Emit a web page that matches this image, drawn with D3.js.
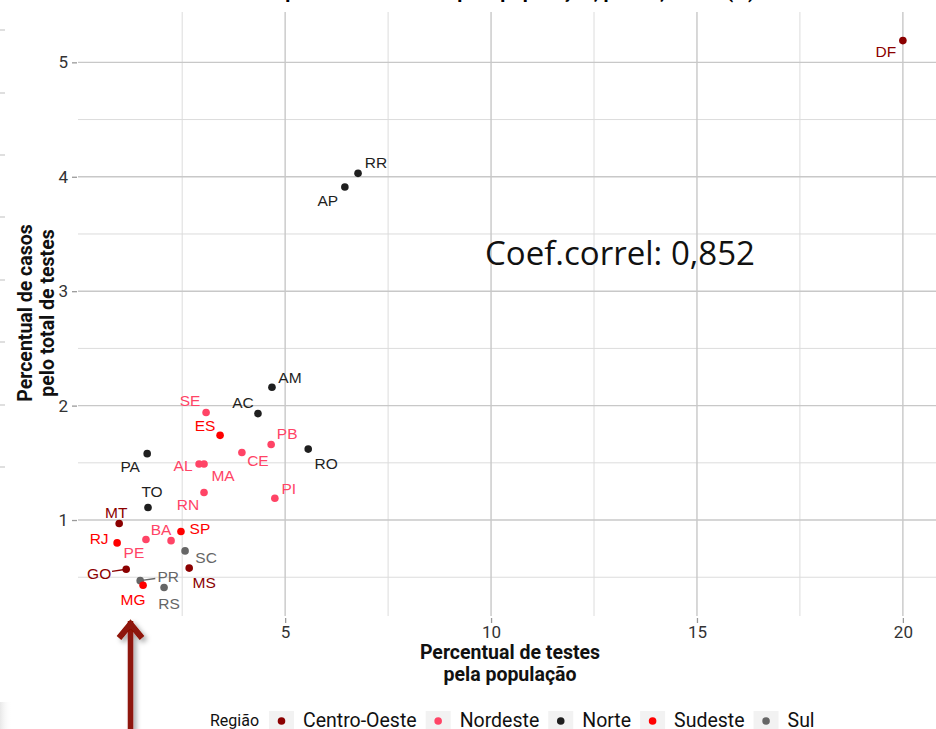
<!DOCTYPE html>
<html>
<head>
<meta charset="utf-8">
<script src="https://cdn.jsdelivr.net/npm/d3@7"></script>
<style>
  body { margin: 0; background: #fff; overflow: hidden; }
  svg { display: block; }
</style>
</head>
<body>
<div id="chart"></div>
<script>
// dados: % de testes pela populacao (x) e % de casos pelo total de testes (y)
var ufs = ["DF", "RR", "AP", "AM", "AC", "SE", "ES", "PB", "CE", "RO", "PA", "AL", "MA", "PI",
           "RN", "TO", "MT", "SP", "BA", "PE", "RJ", "SC", "GO", "MS", "PR", "MG", "RS"];
var regiaoUf = ["Centro-Oeste", "Norte", "Norte", "Norte", "Norte", "Nordeste", "Sudeste", "Nordeste",
                "Nordeste", "Norte", "Norte", "Nordeste", "Nordeste", "Nordeste", "Nordeste", "Norte",
                "Centro-Oeste", "Sudeste", "Nordeste", "Nordeste", "Sudeste", "Sul", "Centro-Oeste",
                "Centro-Oeste", "Sul", "Sudeste", "Sul"];
var testesPop = [20.0, 6.77, 6.45, 4.68, 4.34, 3.08, 3.42, 4.66, 3.95, 5.56, 1.65, 2.91, 3.03, 4.75,
                 3.03, 1.67, 0.97, 2.47, 2.23, 1.62, 0.92, 2.57, 1.14, 2.67, 1.48, 1.55, 2.06];
var casosTestes = [5.19, 4.03, 3.91, 2.16, 1.93, 1.94, 1.74, 1.66, 1.59, 1.62, 1.58, 1.49, 1.49, 1.19,
                   1.24, 1.11, 0.97, 0.90, 0.82, 0.83, 0.80, 0.73, 0.57, 0.58, 0.47, 0.43, 0.41];
var regioes = ["Centro-Oeste", "Nordeste", "Norte", "Sudeste", "Sul"];
var coresRegiao = ["#8b0000", "#ff4466", "#1f1f1f", "#ff0000", "#666666"];
var xTicks = [5, 10, 15, 20];
var yTicks = [1, 2, 3, 4, 5];
var coefCorrel = "0,852";

// deslocamento dos rotulos (tipo ggrepel), em pixels
var labelOffset = {
  DF: [-17, 11], RR: [18, -11], AP: [-17, 13], AM: [18, -10], AC: [-15, -11], SE: [-16, -12],
  ES: [-15, -10], PB: [16, -11], CE: [16, 8], RO: [18, 14], PA: [-17, 13], AL: [-16, 1],
  MA: [19, 11], PI: [14, -10], RN: [-16, 12], TO: [4, -16], MT: [-3, -11], SP: [19, -3],
  BA: [-10, -11], PE: [-12, 13], RJ: [-18, -4], SC: [21, 6], GO: [-27, 4], MS: [15, 14],
  PR: [28, -4], MG: [-10, 14], RS: [5, 16]
};

var data = ufs.map(function(uf, i) {
  return { uf: uf, regiao: regiaoUf[i], x: testesPop[i], y: casosTestes[i] };
});

var width = 936, height = 729;
var panel = { left: 78, right: 942, top: 12, bottom: 616 };

var x = d3.scaleLinear().domain([-0.03, 20.95]).range([panel.left, panel.right]);
var y = d3.scaleLinear().domain([0.17, 5.44]).range([panel.bottom - 1, panel.top]);
var color = d3.scaleOrdinal().domain(regioes).range(coresRegiao);

var svg = d3.select("#chart").append("svg")
    .attr("width", width)
    .attr("height", height);

var defs = svg.append("defs");
var sh = defs.append("filter").attr("id", "sombra")
    .attr("x", "-50%").attr("y", "-20%").attr("width", "200%").attr("height", "140%");
sh.append("feDropShadow").attr("dx", 3).attr("dy", 3).attr("stdDeviation", 2.5)
    .attr("flood-color", "#000").attr("flood-opacity", 0.35);
var lg = defs.append("linearGradient").attr("id", "borda").attr("x1", 0).attr("x2", 1);
lg.append("stop").attr("offset", 0).attr("stop-color", "#e8e8e8");
lg.append("stop").attr("offset", 1).attr("stop-color", "#fff").attr("stop-opacity", 0);

// restos do slide na borda esquerda
svg.append("g").selectAll("line")
    .data([30, 93, 155, 217, 280, 342, 405, 467])
    .enter().append("line")
    .attr("x1", 0).attr("x2", 5)
    .attr("y1", function(d) { return d; }).attr("y2", function(d) { return d; })
    .attr("stroke", "#d5d5d5").attr("stroke-width", 1.5);
svg.append("rect").attr("x", 0).attr("y", 702).attr("width", 12).attr("height", 27)
    .attr("fill", "url(#borda)");

// titulo (cortado no topo, como no original)
svg.append("text")
    .attr("x", 755).attr("y", -2)
    .attr("text-anchor", "end")
    .style("font-family", "Roboto, sans-serif")
    .style("font-weight", "bold")
    .style("font-size", "20px")
    .text("Casos por testes e testes pela população, por UF, Brasil (%)");

// grade
var grid = svg.append("g");
function minors(ticks, step) {
  return ticks.map(function(t) { return t - step / 2; });
}
grid.selectAll(".vminor").data(minors(xTicks, 5))
    .enter().append("line")
    .attr("x1", function(d) { return x(d); }).attr("x2", function(d) { return x(d); })
    .attr("y1", panel.top).attr("y2", panel.bottom)
    .attr("stroke", "#dcdcdc").attr("stroke-width", 1);
grid.selectAll(".hminor").data(minors(yTicks, 1))
    .enter().append("line")
    .attr("x1", panel.left).attr("x2", panel.right)
    .attr("y1", function(d) { return y(d); }).attr("y2", function(d) { return y(d); })
    .attr("stroke", "#dcdcdc").attr("stroke-width", 1);
grid.selectAll(".vmajor").data(xTicks)
    .enter().append("line")
    .attr("x1", function(d) { return x(d); }).attr("x2", function(d) { return x(d); })
    .attr("y1", panel.top).attr("y2", panel.bottom)
    .attr("stroke", "#c8c8c8").attr("stroke-width", 1.4);
grid.selectAll(".hmajor").data(yTicks)
    .enter().append("line")
    .attr("x1", panel.left).attr("x2", panel.right)
    .attr("y1", function(d) { return y(d); }).attr("y2", function(d) { return y(d); })
    .attr("stroke", "#c8c8c8").attr("stroke-width", 1.4);

// eixos
var xAxis = svg.append("g")
    .attr("transform", "translate(0," + (panel.bottom + 2) + ")")
    .call(d3.axisBottom(x).tickValues(xTicks).tickFormat(d3.format("d")).tickSize(5).tickPadding(3));
var yAxis = svg.append("g")
    .attr("transform", "translate(" + (panel.left - 1) + ",0)")
    .call(d3.axisLeft(y).tickValues(yTicks).tickFormat(d3.format("d")).tickSize(5).tickPadding(4));
[xAxis, yAxis].forEach(function(a) {
  a.select(".domain").remove();
  a.selectAll(".tick line").attr("stroke", "#9a9a9a").attr("stroke-width", 1.3);
  a.selectAll(".tick text")
      .attr("fill", "#333")
      .style("font-family", "Roboto, sans-serif")
      .style("font-size", "17px");
});

// titulos dos eixos
var cx = (panel.left + panel.right) / 2;
var xt = svg.append("text")
    .attr("x", cx).attr("y", 659)
    .attr("text-anchor", "middle")
    .style("font-family", "Roboto, sans-serif").style("font-weight", "bold")
    .style("font-size", "19.5px").attr("fill", "#111");
xt.append("tspan").attr("x", cx).text("Percentual de testes");
xt.append("tspan").attr("x", cx).attr("dy", 22).text("pela população");

var yt = svg.append("text")
    .attr("transform", "translate(32,313) rotate(-90)")
    .attr("text-anchor", "middle")
    .style("font-family", "Roboto, sans-serif").style("font-weight", "bold")
    .style("font-size", "19.5px").attr("fill", "#111");
yt.append("tspan").attr("x", 0).text("Percentual de casos");
yt.append("tspan").attr("x", 0).attr("dy", 22).text("pelo total de testes");

// segmentos dos rotulos afastados
var pts = svg.append("g");
data.forEach(function(d) {
  var o = labelOffset[d.uf];
  var dist = Math.sqrt(o[0] * o[0] + o[1] * o[1]);
  if (dist > 25) {
    var px = x(d.x), py = y(d.y);
    var k = (dist - 13) / dist;
    pts.append("line")
        .attr("x1", px).attr("y1", py)
        .attr("x2", px + o[0] * k).attr("y2", py + o[1] * k)
        .attr("stroke", color(d.regiao)).attr("stroke-width", 1.4);
  }
});

pts.selectAll("circle").data(data)
    .enter().append("circle")
    .attr("cx", function(d) { return x(d.x); })
    .attr("cy", function(d) { return y(d.y); })
    .attr("r", 3.8)
    .attr("fill", function(d) { return color(d.regiao); });

pts.selectAll(".rotulo").data(data)
    .enter().append("text")
    .attr("class", "rotulo")
    .attr("x", function(d) { return x(d.x) + labelOffset[d.uf][0]; })
    .attr("y", function(d) { return y(d.y) + labelOffset[d.uf][1]; })
    .attr("dy", "0.36em")
    .attr("text-anchor", "middle")
    .attr("fill", function(d) { return color(d.regiao); })
    .style("font-family", "'Liberation Sans', Arial, sans-serif")
    .style("font-size", "15.5px")
    .text(function(d) { return d.uf; });

// anotacao
svg.append("text")
    .attr("x", 485).attr("y", 265)
    .attr("textLength", 270).attr("lengthAdjust", "spacingAndGlyphs")
    .style("font-family", "'Open Sans', sans-serif")
    .style("font-size", "33px")
    .attr("fill", "#111")
    .text("Coef.correl: " + coefCorrel);

// legenda (cortada embaixo, como no original)
var leg = svg.append("g").attr("transform", "translate(0,720)");
leg.append("text").attr("x", 210).attr("dy", "0.35em")
    .style("font-family", "Roboto, sans-serif").style("font-size", "16px")
    .attr("fill", "#111").text("Região");
var lx = 269;
regioes.forEach(function(r) {
  var g = leg.append("g").attr("transform", "translate(" + lx + ",0)");
  g.append("rect").attr("x", 0).attr("y", -9).attr("width", 25).attr("height", 25).attr("fill", "#f2f2f2");
  g.append("circle").attr("cx", 12.5).attr("cy", 1).attr("r", 3.8).attr("fill", color(r));
  var t = g.append("text").attr("x", 34).attr("dy", "0.35em")
      .style("font-family", "Roboto, sans-serif").style("font-size", "19.5px")
      .attr("fill", "#111").text(r);
  lx += 34 + t.node().getComputedTextLength() + 9;
});

// seta
var seta = svg.append("g").attr("filter", "url(#sombra)")
    .attr("stroke", "#8e1207").attr("fill", "none")
    .attr("stroke-linecap", "butt").attr("stroke-linejoin", "miter");
seta.append("line").attr("x1", 130.5).attr("x2", 130.5).attr("y1", 621).attr("y2", 740).attr("stroke-width", 5.5);
seta.append("path").attr("d", "M119,638 L130.5,624 L142,638").attr("stroke-width", 6);
</script>
</body>
</html>
